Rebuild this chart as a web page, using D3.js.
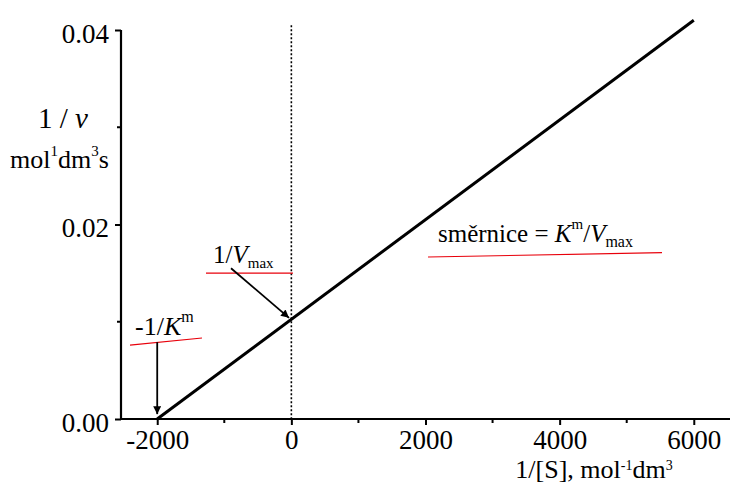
<!DOCTYPE html>
<html>
<head>
<meta charset="utf-8">
<script src="https://cdn.jsdelivr.net/npm/d3@7"></script>
<style>
  body { margin: 0; background: #fff; }
</style>
</head>
<body>
<div class="chart"></div>
<script>
// data
var lineX = [-2000, 6000];
var lineY = [0, 0.041];
var xTicks = [-2000, 0, 2000, 4000, 6000];
var xMinorTicks = [-1000, 1000, 3000, 5000];
var yTicks = [0, 0.02, 0.04];
var yMinorTicks = [0.01, 0.03];
var yTickLabels = ["0.00", "0.02", "0.04"];

var serif = "'Liberation Serif'";
var svgWidth = 732, svgHeight = 486;

var svg = d3.select(".chart").append("svg")
    .attr("width", svgWidth)
    .attr("height", svgHeight);

var x = d3.scaleLinear().domain([-2540, 6540]).range([121, 730]);
var y = d3.scaleLinear().domain([0, 0.04]).range([419, 30]);

// dotted line at x = 0
svg.append("line")
    .attr("x1", x(0)).attr("x2", x(0))
    .attr("y1", y(0.0405)).attr("y2", y(0))
    .attr("stroke", "#000")
    .attr("stroke-width", 1.6)
    .attr("stroke-dasharray", "2,2");

// axes
var bottomAxis = d3.axisBottom(x).tickValues(xTicks).tickSize(6).tickPadding(5)
    .tickFormat(d => d < 0 ? "-" + Math.abs(d) : d);
var gx = svg.append("g").attr("transform", `translate(0, ${y(0)})`).call(bottomAxis);
gx.select(".domain").attr("d", `M${x.range()[0]},0H${x.range()[1]}`).attr("stroke-width", 2.2);
gx.selectAll(".tick line").attr("stroke-width", 2);
gx.selectAll(".tick text").attr("font-size", 27).style("font-family", serif);

svg.append("g").selectAll("line")
    .data(xMinorTicks).enter().append("line")
    .attr("x1", d => x(d)).attr("x2", d => x(d))
    .attr("y1", y(0)).attr("y2", y(0) + 4)
    .attr("stroke", "#000").attr("stroke-width", 2);

var leftAxis = d3.axisLeft(y).tickValues(yTicks).tickSize(6).tickPadding(6)
    .tickFormat((d, i) => yTickLabels[i]);
var gy = svg.append("g").attr("transform", `translate(${x.range()[0]}, 0)`).call(leftAxis);
gy.select(".domain").attr("d", `M0,${y.range()[0]}V${y.range()[1]}`).attr("stroke-width", 2.2);
gy.selectAll(".tick line").attr("stroke-width", 2);
gy.selectAll(".tick text").attr("font-size", 27).style("font-family", serif)
    .attr("dy", "0.45em");

svg.append("g").selectAll("line")
    .data(yMinorTicks).enter().append("line")
    .attr("x1", x.range()[0] - 4).attr("x2", x.range()[0])
    .attr("y1", d => y(d)).attr("y2", d => y(d))
    .attr("stroke", "#000").attr("stroke-width", 2);

// main line
var line = d3.line().x(d => x(d[0])).y(d => y(d[1]));
svg.append("path")
    .datum(lineX.map((v, i) => [v, lineY[i]]))
    .attr("d", line)
    .attr("fill", "none")
    .attr("stroke", "#000")
    .attr("stroke-width", 3);

// arrow marker
svg.append("defs").append("marker")
    .attr("id", "arrow")
    .attr("viewBox", "0 0 10 10")
    .attr("refX", 10).attr("refY", 5)
    .attr("markerWidth", 10).attr("markerHeight", 8)
    .attr("markerUnits", "userSpaceOnUse")
    .attr("orient", "auto")
    .append("path")
    .attr("d", "M0,0L10,5L0,10z")
    .attr("fill", "#000");

function arrow(x1, y1, x2, y2) {
    svg.append("line")
        .attr("x1", x(x1)).attr("y1", y(y1))
        .attr("x2", x(x2)).attr("y2", y(y2))
        .attr("stroke", "#000").attr("stroke-width", 1.8)
        .attr("marker-end", "url(#arrow)");
}
function redLine(x1, y1, x2, y2) {
    svg.append("line")
        .attr("x1", x(x1)).attr("y1", y(y1))
        .attr("x2", x(x2)).attr("y2", y(y2))
        .attr("stroke", "#e8000b").attr("stroke-width", 1.2);
}
function label(px, py, size, anchor) {
    return svg.append("text").attr("x", px).attr("y", py)
        .attr("font-size", size)
        .attr("text-anchor", anchor || "start")
        .style("font-family", serif);
}

// -1/K^m
var t1 = label(x(-2331), y(0.00864), 26);
t1.append("tspan").text("-1/");
t1.append("tspan").attr("font-style", "italic").text("K");
t1.append("tspan").attr("font-size", 16).attr("dy", -13).text("m");
redLine(-2406, 0.0076, -1332, 0.00833);
arrow(-2000, 0.0079, -2000, 0.0005);

// 1/Vmax
var t2 = label(x(-1168), y(0.016), 25);
t2.append("tspan").text("1/");
t2.append("tspan").attr("font-style", "italic").text("V");
t2.append("tspan").attr("font-size", 15).attr("dy", 5).text("max");
redLine(-1273, 0.015, 24, 0.015);
arrow(-900, 0.0155, -35, 0.0104);

// slope
var t3 = label(x(2186), y(0.0182), 25);
t3.append("tspan").text("směrnice = ");
t3.append("tspan").attr("font-style", "italic").text("K");
t3.append("tspan").attr("font-size", 15).attr("dy", -13).text("m");
t3.append("tspan").attr("dy", 13).text("/");
t3.append("tspan").attr("font-style", "italic").text("V");
t3.append("tspan").attr("font-size", 16).attr("dy", 5).text("max");
redLine(2037, 0.01666, 5526, 0.0171);

// y label
var yl1 = label(63, 128, 29, "middle");
yl1.append("tspan").text("1 / ");
yl1.append("tspan").attr("font-style", "italic").text("v");
var yl2 = label(10, 168, 26);
yl2.append("tspan").text("mol");
yl2.append("tspan").attr("font-size", 15).attr("dy", -12).text("1");
yl2.append("tspan").attr("dy", 12).text("dm");
yl2.append("tspan").attr("font-size", 15).attr("dy", -12).text("3");
yl2.append("tspan").attr("dy", 12).text("s");

// x label
var xl = label(594, 478, 26, "middle");
xl.append("tspan").text("1/[S],  mol");
xl.append("tspan").attr("font-size", 14).attr("dy", -8).text("-1");
xl.append("tspan").attr("dy", 8).text("dm");
xl.append("tspan").attr("font-size", 14).attr("dy", -8).text("3");
</script>
</body>
</html>
